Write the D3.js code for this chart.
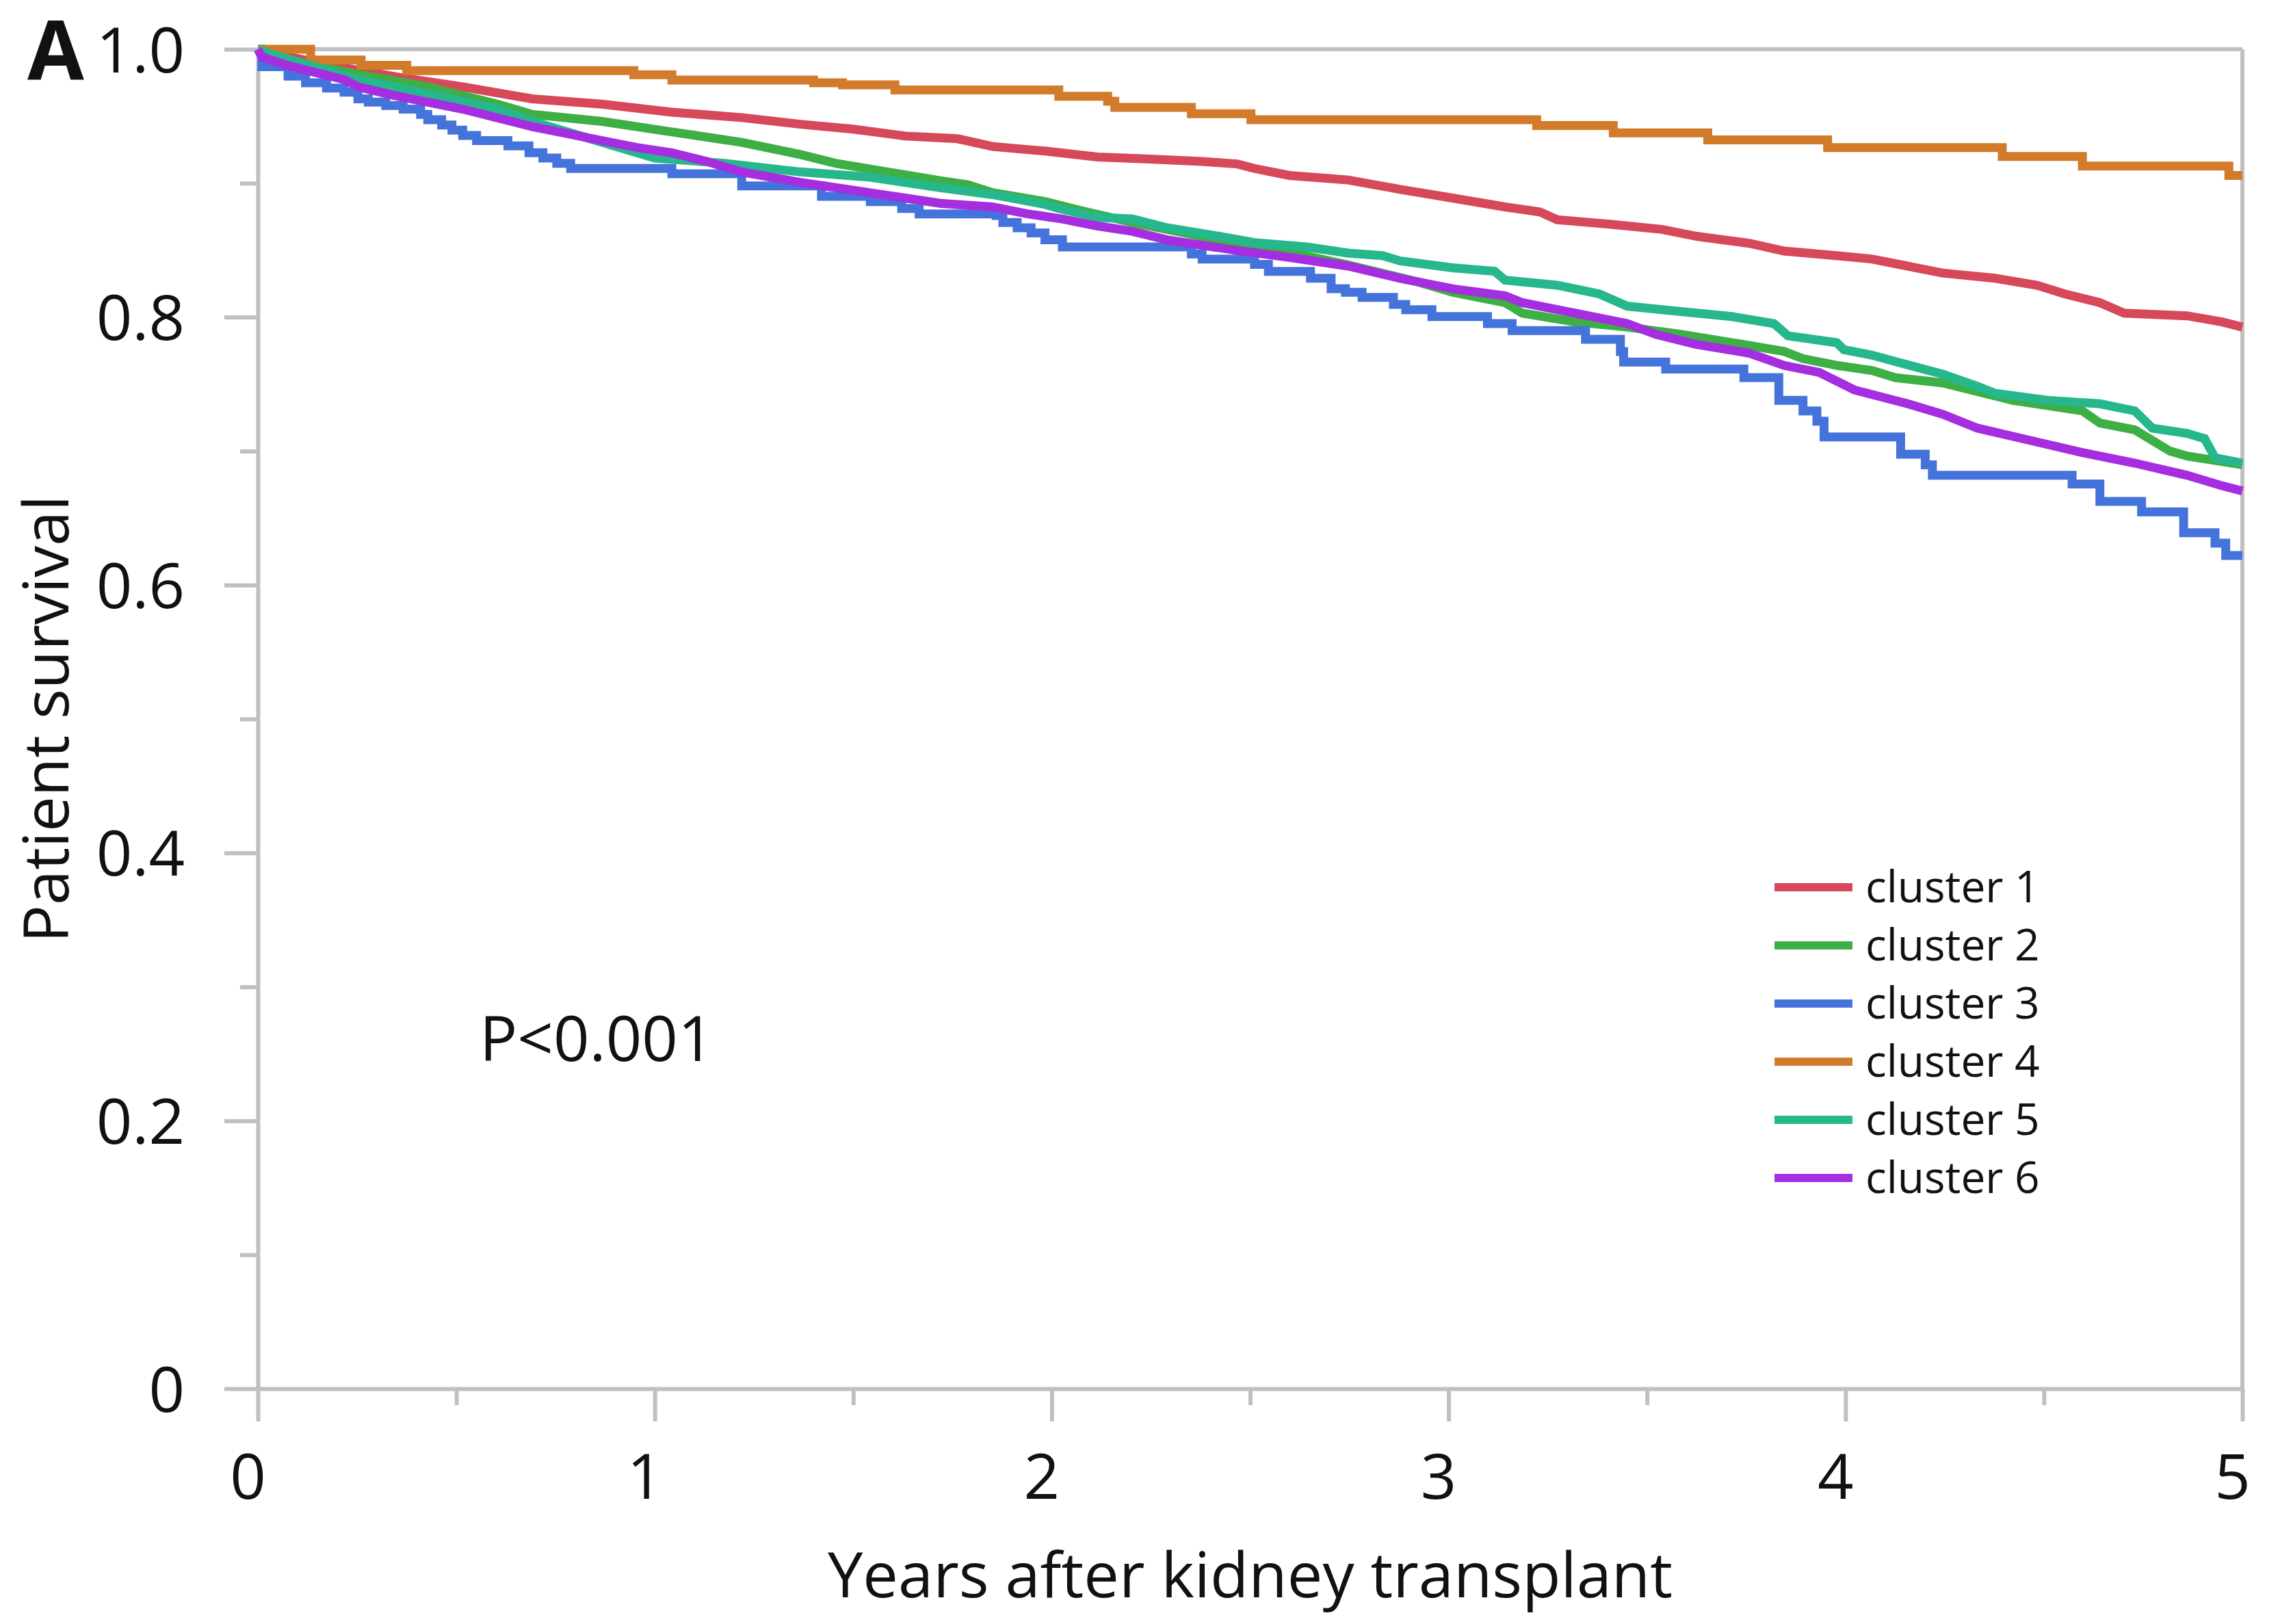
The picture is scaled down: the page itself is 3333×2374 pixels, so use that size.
<!DOCTYPE html>
<html>
<head>
<meta charset="utf-8">
<title>Patient survival by cluster</title>
<style>
  html, body { margin: 0; padding: 0; background: #fff; }
  text { font-family: "Open Sans", "Noto Sans", sans-serif; fill: #111; }
</style>
</head>
<body>
<script src="https://d3js.org/d3.v7.min.js"></script>
<script>
// Kaplan-Meier points: [years, survival]
var cluster1 = [[0,1],[0.1,0.993],[0.2,0.987],[0.357,0.979],[0.516,0.972],[0.691,0.963],[0.867,0.959],[1.043,0.953],[1.219,0.949],[1.367,0.944],[1.499,0.9404],[1.631,0.9352],[1.763,0.9332],[1.851,0.9274],[1.983,0.924],[2.115,0.9196],[2.247,0.918],[2.379,0.9162],[2.467,0.9144],[2.511,0.911],[2.599,0.9058],[2.747,0.9024],[2.878,0.8954],[3.010,0.8889],[3.142,0.8823],[3.230,0.8785],[3.274,0.8727],[3.406,0.8694],[3.538,0.8655],[3.626,0.8603],[3.758,0.8551],[3.846,0.8493],[3.978,0.8459],[4.066,0.8434],[4.157,0.8381],[4.245,0.8329],[4.377,0.829],[4.483,0.8238],[4.553,0.8173],[4.641,0.8108],[4.702,0.803],[4.861,0.801],[4.949,0.7964],[5.0,0.7926]];
var cluster2 = [[0,1],[0.076,0.9917],[0.252,0.9813],[0.428,0.972],[0.603,0.959],[0.691,0.9514],[0.867,0.9461],[1.043,0.9383],[1.219,0.9305],[1.367,0.9214],[1.455,0.9149],[1.587,0.9084],[1.719,0.9019],[1.789,0.8988],[1.851,0.8929],[1.983,0.8863],[2.071,0.8797],[2.203,0.8707],[2.334,0.8629],[2.467,0.8551],[2.599,0.8485],[2.747,0.839],[2.922,0.8264],[3.010,0.8186],[3.142,0.8108],[3.186,0.803],[3.318,0.7965],[3.450,0.7926],[3.582,0.7873],[3.714,0.781],[3.846,0.7743],[3.893,0.769],[3.978,0.764],[4.069,0.760],[4.126,0.7548],[4.245,0.7509],[4.421,0.7379],[4.597,0.730],[4.641,0.721],[4.729,0.7158],[4.817,0.7001],[4.861,0.6963],[5.0,0.6898]];
var cluster3 = [[0,1],[0.01,0.987],[0.076,0.98],[0.12,0.975],[0.173,0.971],[0.217,0.968],[0.252,0.963],[0.278,0.9605],[0.322,0.958],[0.366,0.9553],[0.41,0.9514],[0.428,0.9474],[0.463,0.9435],[0.489,0.9396],[0.516,0.9357],[0.551,0.9318],[0.63,0.9279],[0.683,0.9227],[0.718,0.9188],[0.753,0.9149],[0.788,0.911],[1.043,0.9071],[1.219,0.898],[1.42,0.8902],[1.543,0.8863],[1.622,0.8811],[1.666,0.8771],[1.86,0.8759],[1.877,0.8707],[1.913,0.8667],[1.948,0.8629],[1.983,0.8577],[2.027,0.8524],[2.352,0.8472],[2.379,0.8433],[2.511,0.8394],[2.546,0.8342],[2.652,0.829],[2.704,0.8212],[2.74,0.8186],[2.782,0.8147],[2.861,0.8095],[2.892,0.8056],[2.958,0.8004],[3.098,0.7952],[3.16,0.79],[3.345,0.7835],[3.433,0.7743],[3.441,0.7665],[3.547,0.7613],[3.744,0.7548],[3.832,0.7379],[3.893,0.730],[3.928,0.7223],[3.946,0.7106],[4.139,0.6976],[4.201,0.6897],[4.219,0.6819],[4.571,0.6754],[4.641,0.6624],[4.746,0.6546],[4.852,0.639],[4.931,0.6312],[4.958,0.622],[5.0,0.622]];
var cluster4 = [[0,1],[0.133,0.992],[0.26,0.988],[0.375,0.984],[0.947,0.981],[1.043,0.977],[1.40,0.975],[1.473,0.9735],[1.605,0.9696],[2.018,0.9649],[2.141,0.9612],[2.159,0.9566],[2.352,0.9519],[2.502,0.9474],[3.222,0.943],[3.415,0.9376],[3.653,0.9323],[3.955,0.9266],[4.395,0.920],[4.597,0.9128],[4.966,0.9058],[5.0,0.9058]];
var cluster5 = [[0,1],[0.041,0.9956],[0.12,0.989],[0.252,0.9774],[0.428,0.967],[0.603,0.9553],[0.691,0.9461],[1.0,0.9188],[1.175,0.9149],[1.367,0.9084],[1.543,0.9045],[1.719,0.8967],[1.851,0.8915],[1.983,0.8842],[2.018,0.8811],[2.115,0.8745],[2.203,0.8733],[2.291,0.8667],[2.423,0.8603],[2.511,0.8556],[2.643,0.8524],[2.747,0.8478],[2.834,0.8459],[2.878,0.842],[3.010,0.8368],[3.116,0.8342],[3.142,0.8277],[3.274,0.8238],[3.380,0.8173],[3.450,0.8082],[3.582,0.8043],[3.714,0.8004],[3.820,0.7952],[3.855,0.7861],[3.978,0.7809],[3.996,0.7757],[4.066,0.7717],[4.113,0.7679],[4.245,0.7574],[4.333,0.7483],[4.377,0.7431],[4.509,0.7379],[4.641,0.7353],[4.729,0.730],[4.773,0.7171],[4.861,0.7132],[4.905,0.7093],[4.931,0.695],[5.0,0.691]];
var cluster6 = [[0,1],[0.01,0.9943],[0.076,0.9878],[0.164,0.9813],[0.217,0.9774],[0.252,0.972],[0.34,0.9657],[0.428,0.9605],[0.516,0.9553],[0.603,0.9488],[0.691,0.9422],[0.78,0.937],[0.867,0.9318],[0.955,0.9266],[1.043,0.9227],[1.131,0.9162],[1.219,0.9084],[1.367,0.9006],[1.455,0.8967],[1.543,0.8928],[1.631,0.8889],[1.719,0.885],[1.851,0.8823],[1.939,0.8771],[2.027,0.8733],[2.115,0.8681],[2.203,0.8641],[2.291,0.8577],[2.379,0.8537],[2.467,0.8498],[2.599,0.8446],[2.747,0.8381],[2.878,0.829],[3.010,0.8212],[3.142,0.816],[3.186,0.8108],[3.318,0.803],[3.450,0.7952],[3.521,0.7873],[3.626,0.7795],[3.758,0.7731],[3.846,0.7639],[3.934,0.7587],[4.022,0.7457],[4.157,0.7353],[4.245,0.7275],[4.333,0.7171],[4.465,0.708],[4.597,0.6989],[4.729,0.691],[4.861,0.6819],[4.949,0.6741],[5.0,0.6702]];

var clusterNames = ["cluster 1", "cluster 2", "cluster 3", "cluster 4", "cluster 5", "cluster 6"];
var clusterColors = ["#d6485a", "#3daf45", "#4573dc", "#d17b2b", "#27b78d", "#a42ee0"];
var clusterSeries = [cluster1, cluster2, cluster3, cluster4, cluster5, cluster6];
// clusters 3 and 4 have few events, so their steps are drawn as steps
var stepped = [false, false, true, true, false, false];

var xTicks = [0, 1, 2, 3, 4, 5];
var xMinor = [0.5, 1.5, 2.5, 3.5, 4.5];
var yTicks = [0, 0.2, 0.4, 0.6, 0.8, 1.0];
var yMinor = [0.1, 0.3, 0.5, 0.7, 0.9];

var svgWidth = 3333, svgHeight = 2374;
var plotLeft = 377, plotRight = 3278, plotTop = 72, plotBottom = 2030;
var grey = "#c0c0c0";

var svg = d3.select("body").append("svg")
    .attr("width", svgWidth)
    .attr("height", svgHeight);

var x = d3.scaleLinear().domain([0, 5]).range([plotLeft, plotRight]);
var y = d3.scaleLinear().domain([0, 1]).range([plotBottom, plotTop]);

// frame (top and right edges)
svg.append("line")
    .attr("x1", x(0)).attr("x2", x(5)).attr("y1", y(1)).attr("y2", y(1))
    .attr("stroke", grey).attr("stroke-width", 6);
svg.append("line")
    .attr("x1", x(5)).attr("x2", x(5)).attr("y1", y(1)).attr("y2", y(0))
    .attr("stroke", grey).attr("stroke-width", 6);

// y axis
var yAxis = svg.append("g")
    .attr("transform", "translate(" + plotLeft + ",0)")
    .call(d3.axisLeft(y).tickValues(yTicks).tickSize(49).tickSizeOuter(0)
        .tickFormat(function(d) { return d === 0 ? "0" : d3.format(".1f")(d); }));
svg.append("g")
    .attr("transform", "translate(" + plotLeft + ",0)")
    .call(d3.axisLeft(y).tickValues(yMinor).tickSize(26).tickFormat(""))
    .select(".domain").remove();

// x axis
var xAxis = svg.append("g")
    .attr("transform", "translate(0," + plotBottom + ")")
    .call(d3.axisBottom(x).tickValues(xTicks).tickSize(48).tickSizeOuter(0)
        .tickFormat(d3.format("d")));
svg.append("g")
    .attr("transform", "translate(0," + plotBottom + ")")
    .call(d3.axisBottom(x).tickValues(xMinor).tickSize(24).tickFormat(""))
    .select(".domain").remove();

svg.selectAll(".domain, .tick line")
    .attr("stroke", grey)
    .attr("stroke-width", 6);

yAxis.selectAll("text")
    .attr("x", -107)
    .attr("dy", "0.36em")
    .style("font-family", "'Open Sans', sans-serif")
    .style("font-size", "92px")
    .attr("fill", "#111");

xAxis.selectAll("text")
    .attr("y", 96)
    .attr("dx", -15)
    .attr("dy", "0.71em")
    .style("font-family", "'Open Sans', sans-serif")
    .style("font-size", "92px")
    .attr("fill", "#111");

// survival curves
clusterSeries.forEach(function(series, i) {
    var line = d3.line()
        .x(function(d) { return x(d[0]); })
        .y(function(d) { return y(d[1]); })
        .curve(stepped[i] ? d3.curveStepAfter : d3.curveLinear);
    svg.append("path")
        .datum(series)
        .attr("d", line)
        .attr("fill", "none")
        .attr("stroke", clusterColors[i])
        .attr("stroke-width", 13)
        .attr("stroke-linejoin", "miter");
});

// legend
var legend = svg.append("g").attr("transform", "translate(2594,1297)");
legend.selectAll("line")
    .data(clusterNames)
    .enter()
    .append("line")
    .attr("x1", 0).attr("x2", 114)
    .attr("y1", function(d, i) { return i * 85; })
    .attr("y2", function(d, i) { return i * 85; })
    .attr("stroke", function(d, i) { return clusterColors[i]; })
    .attr("stroke-width", 12);
legend.selectAll("text")
    .data(clusterNames)
    .enter()
    .append("text")
    .attr("x", 133)
    .attr("y", function(d, i) { return i * 85 + 22; })
    .style("font-size", "64px")
    .text(function(d) { return d; });

// labels
svg.append("text")
    .attr("x", 701).attr("y", 1551)
    .style("font-size", "92px")
    .text("P<0.001");

svg.append("text")
    .attr("x", (plotLeft + plotRight) / 2).attr("y", 2335)
    .attr("text-anchor", "middle")
    .style("font-size", "92px")
    .text("Years after kidney transplant");

svg.append("text")
    .attr("transform", "translate(100," + (plotTop + plotBottom) / 2 + ") rotate(-90)")
    .attr("text-anchor", "middle")
    .style("font-size", "92px")
    .text("Patient survival");

svg.append("text")
    .attr("x", 40).attr("y", 116)
    .style("font-size", "120px")
    .style("font-weight", "bold")
    .text("A");
</script>
</body>
</html>
